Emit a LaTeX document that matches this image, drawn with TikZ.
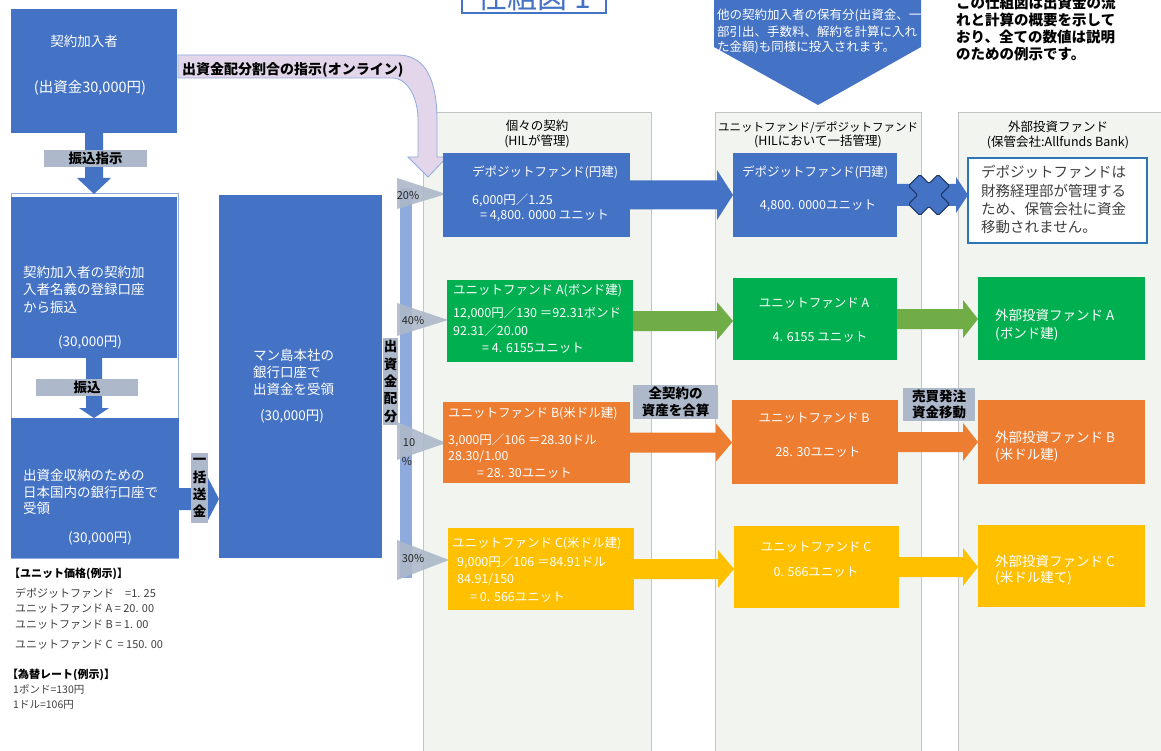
\documentclass[tikz,border=0pt]{standalone}
\usepackage{fontspec}
\setmainfont{Noto Sans CJK JP}
\newfontfamily\jpfw{Noto Sans CJK JP}
\usetikzlibrary{calc}
\definecolor{cblue}{HTML}{4472C4}
\definecolor{cgreen}{HTML}{00B050}
\definecolor{cgreenarr}{HTML}{70AD47}
\definecolor{corange}{HTML}{ED7D31}
\definecolor{cgold}{HTML}{FFC000}
\definecolor{clabel}{HTML}{ADB9CA}
\definecolor{cpanel}{HTML}{F2F5EF}
\definecolor{cpanelline}{HTML}{C4C4C4}
\definecolor{clilac}{HTML}{E3D6EB}
\definecolor{cbar}{HTML}{8FAADC}
\definecolor{cdark}{HTML}{1F3864}
\definecolor{coutline}{HTML}{2E75B6}
\definecolor{ctext}{HTML}{404040}
\newcommand\jfs[1]{\fontsize{#1pt}{#1pt}\selectfont}
\newcommand\jfl[2]{\fontsize{#1pt}{#2pt}\selectfont}
% horizontal block arrow: from, to, shaft half, head half, head length, colour
\newcommand\blkh[6]{\fill[#6] let \p1=(#1), \p2=(#2) in (\x1,\y1+#3) -- (\x2-#5,\y1+#3) -- (\x2-#5,\y1+#4) -- (\x2,\y1) -- (\x2-#5,\y1-#4) -- (\x2-#5,\y1-#3) -- (\x1,\y1-#3) -- cycle;}
% vertical (downward) block arrow
\newcommand\blkv[6]{\fill[#6] let \p1=(#1), \p2=(#2) in (\x1-#3,\y1) -- (\x1-#3,\y2+#5) -- (\x1-#4,\y2+#5) -- (\x1,\y2) -- (\x1+#4,\y2+#5) -- (\x1+#3,\y2+#5) -- (\x1+#3,\y1) -- cycle;}
\begin{document}
\begin{tikzpicture}[x=1pt,y=-1pt,
  box/.style={inner sep=0pt, outer sep=0pt, anchor=north west},
  wl/.style={inner sep=0pt, anchor=base west, text=white},
  wc/.style={inner sep=0pt, anchor=base, text=white},
  kl/.style={inner sep=0pt, anchor=base west, text=black},
  kc/.style={inner sep=0pt, anchor=base, text=black},
  lab/.style={fill=clabel, inner sep=0pt, outer sep=0pt, text=black, align=center, font=\bfseries\jfl{13.5}{16.5}},
  vlab/.style={lab, font=\bfseries\jfl{13.5}{17.3}},
  panel/.style={box, fill=cpanel, draw=cpanelline, line width=0.8pt, minimum height=660pt},
  pct/.style={inner sep=0pt, text=black!85, font=\jfs{11}},
  ptr/.style={fill=clabel, fill opacity=0.9},
  t12/.style={font=\jfs{12.5}},
  t13/.style={font=\jfs{13.5}},
  t135/.style={font=\jfs{13.5}},
  leg/.style={kl, text=ctext, font=\jfs{11}},
]
\useasboundingbox (0,0) rectangle (1161,751);
\clip (0,0) rectangle (1161,751);
\fill[white] (0,0) rectangle (1161,751);

% ---------- title (cut at top) ----------
\node[box, anchor=south west, draw=cblue, line width=2pt, minimum width=144pt, minimum height=60pt] (ttlbox) at (462,13) {};
\node[inner sep=0pt, anchor=base, text=cblue, font=\jfs{30}] (ttl) at (534,9) {仕組図 1};

% ---------- pentagon arrow from the top ----------
\fill[cblue] (714,-5) -- (921,-5) -- (921,47) -- (818,105) -- (714,47) -- cycle;
\node[wl, font=\jfs{12.5}] (pt1) at (717,20) {他の契約加入者の保有分(出資金、一};
\node[wl, font=\jfs{12.5}] (pt2) at (717,36.5) {部引出、手数料、解約を計算に入れ};
\node[wl, font=\jfs{12.5}] (pt3) at (717,52) {た金額)も同様に投入されます。};

% ---------- note top right ----------
\node[kl, font=\bfseries\jfs{14.5}] (n1) at (956,8.5) {この仕組図は出資金の流};
\node[kl, font=\bfseries\jfs{14.5}] (n2) at (956,25.5) {れと計算の概要を示して};
\node[kl, font=\bfseries\jfs{14.5}] (n3) at (956,42.5) {おり、全ての数値は説明};
\node[kl, font=\bfseries\jfs{14.5}] (n4) at (956,59.5) {のための例示です。};

% ---------- panels ----------
\node[panel, minimum width=228pt] (p1) at (423,112) {};
\node[panel, minimum width=206pt] (p2) at (715,112) {};
\node[panel, minimum width=215pt] (p3) at (958,112) {};
\node[kc, font=\jfs{12.5}] (p1t1) at (537,131) {個々の契約};
\node[kc, font=\jfs{12.5}] (p1t2) at (537,146) {(HILが管理)};
\node[kc, font=\jfs{11.5}] (p2t1) at (818,131.5) {ユニットファンド/デポジットファンド};
\node[kc, font=\jfs{12.5}] (p2t2) at (818,146) {(HILにおいて一括管理)};
\node[kc, font=\jfs{12.5}] (p3t1) at (1058,132) {外部投資ファンド};
\node[kc, font=\jfs{12.5}] (p3t2) at (1058,147) {(保管会社:Allfunds Bank)};

% ---------- left column ----------
\node[box, fill=cblue, minimum width=166pt, minimum height=124pt] (b1) at (11,9) {};
\node[wc, t135] (b1t1) at (84,47) {契約加入者};
\node[wc, font=\jfs{14.5}] (b1t2) at (90,93) {(出資金30,000円)};

\node[box, fill=white, draw=cbar, line width=1pt, minimum width=167pt, minimum height=364pt] (b2f) at (11,194) {};
\node[box, fill=cblue, minimum width=166pt, minimum height=161pt] (b2) at (11,197) {};
\node[wl, t135] (b2t1) at (23,277) {契約加入者の契約加};
\node[wl, t135] (b2t2) at (23,294) {入者名義の登録口座};
\node[wl, t135] (b2t3) at (23,312) {から振込};
\node[wc, t135] (b2t4) at (90,346) {(30,000円)};

\node[box, fill=cblue, minimum width=168pt, minimum height=140pt] (b3) at (11,418) {};
\node[wl, t135] (b3t1) at (23,480) {出資金収納のための};
\node[wl, t135] (b3t2) at (23,497) {日本国内の銀行口座で};
\node[wl, t135] (b3t3) at (23,513) {受領};
\node[wc, t135] (b3t4) at (100,542) {(30,000円)};

\node[box, fill=cblue, minimum width=163pt, minimum height=363pt] (bk) at (219,195) {};
\node[wl, t135] (bkt1) at (253,360) {マン島本社の};
\node[wl, t135] (bkt2) at (253,377) {銀行口座で};
\node[wl, t135] (bkt3) at (253,394) {出資金を受領};
\node[wc, t135] (bkt4) at (292,420) {(30,000円)};

\blkv{b1.south}{b2f.north}{9pt}{17pt}{16pt}{cblue}
\node[lab, minimum width=103pt, minimum height=17pt] (l1) at (95.5,158.5) {振込指示};
\blkv{b2.south}{b3.north}{8pt}{15pt}{10pt}{cblue}
\node[lab, minimum width=102pt, minimum height=17pt] (l2) at (87,387.5) {振込};
\blkh{[yshift=-11pt]b3.east}{bk.west}{11pt}{23pt}{12pt}{cblue}
\node[vlab, minimum width=17pt, minimum height=70pt] (l3) at (199.5,488) {一\\括\\送\\金};

% ---------- distribution bar ----------
\fill[cbar] (400,188) rectangle (412,578);
\fill[ptr] (397,178) -- (446,194) -- (397,209) -- cycle;
\fill[ptr] (397,303) -- (448,320) -- (397,336) -- cycle;
\fill[ptr] (397,422) -- (446,443) -- (397,460) -- cycle;
\fill[ptr] (397,540) -- (449,560) -- (397,580) -- cycle;
\node[pct] (pc20) at (408,195) {20\%};
\node[pct] (pc40) at (413,320) {40\%};
\node[pct] (pc10) at (409,443) {10};
\node[pct] (pc10b) at (407,461) {\%};
\node[pct] (pc30) at (413,558) {30\%};
\node[vlab, minimum width=15pt, minimum height=87pt] (l4) at (390.5,381.5) {出\\資\\金\\配\\分};

% ---------- lilac instruction arrow ----------
\filldraw[fill=clilac, draw=cbar, line width=0.8pt] (178,55) -- (398,55) .. controls (428,55) and (437,85) .. (437,120) -- (437,157) -- (447,157) -- (428,177) -- (408,157) -- (418,157) -- (418,120) .. controls (418,98) and (408,78) .. (392,78) -- (178,78) -- cycle;
\node[kl, font=\bfseries\jfs{14}] (lil) at (182,75) {出資金配分割合の指示(オンライン)};

% ---------- column 1 ----------
\node[box, fill=cblue, minimum width=187pt, minimum height=84pt] (d1) at (443,153) {};
\node[wl, t12] (d1t1) at (472,176.5) {デポジットファンド(円建)};
\node[wl, t12] (d1t2) at (472,204.5) {6,000円／1.25};
\node[wl, t12] (d1t3) at (480,219.5) {= 4,800. 0000 ユニット};

\node[box, fill=cgreen, minimum width=186pt, minimum height=82pt] (g1) at (447,280) {};
\node[wl, t12] (g1t1) at (453,294.5) {ユニットファンド A(ボンド建)};
\node[wl, t12] (g1t2) at (453,317.5) {12,000円／130 ＝92.31ボンド};
\node[wl, t12] (g1t3) at (453,335.5) {92.31／20.00};
\node[wl, t12] (g1t4) at (482,352.5) {= 4. 6155ユニット};

\node[box, fill=corange, minimum width=187pt, minimum height=81pt] (o1) at (443,402) {};
\node[wl, t12] (o1t1) at (448,417.5) {ユニットファンド B(米ドル建)};
\node[wl, t12] (o1t2) at (448,444.5) {3,000円／106 ＝28.30ドル};
\node[wl, t12] (o1t3) at (448,460.5) {28.30/1.00};
\node[wl, t12] (o1t4) at (477,477.5) {= 28. 30ユニット};

\node[box, fill=cgold, minimum width=186pt, minimum height=82pt] (y1) at (448,528) {};
\node[wl, t12] (y1t1) at (452,547.5) {ユニットファンド C(米ドル建)};
\node[wl, t12] (y1t2) at (457,566.5) {9,000円／106 ＝84.91ドル};
\node[wl, t12] (y1t3) at (457,583.5) {84.91/150};
\node[wl, t12] (y1t4) at (470,601.5) {= 0. 566ユニット};

% ---------- column 2 ----------
\node[box, fill=cblue, minimum width=164pt, minimum height=84pt] (d2) at (733,153) {};
\node[wc, t12] (d2t1) at (815,176.5) {デポジットファンド(円建)};
\node[wc, t12] (d2t2) at (818,209.5) {4,800. 0000ユニット};

\node[box, fill=cgreen, minimum width=164pt, minimum height=82pt] (g2) at (733,278) {};
\node[wc, t12] (g2t1) at (814,307.5) {ユニットファンド A};
\node[wc, t12] (g2t2) at (820,341.5) {4. 6155 ユニット};

\node[box, fill=corange, minimum width=166pt, minimum height=84pt] (o2) at (732,400) {};
\node[wc, t12] (o2t1) at (814,422.5) {ユニットファンド B};
\node[wc, t12] (o2t2) at (818,456.5) {28. 30ユニット};

\node[box, fill=cgold, minimum width=165pt, minimum height=82pt] (y2) at (734,526) {};
\node[wc, t12] (y2t1) at (816,551.5) {ユニットファンド C};
\node[wc, t12] (y2t2) at (816,576.5) {0. 566ユニット};

% ---------- column 3 ----------
\node[box, fill=white, draw=coutline, line width=1.3pt, minimum width=179pt, minimum height=85pt] (o3) at (968,158) {};
\node[kl, text=ctext, font=\jpfw\jfs{14.5}] (o3t1) at (981,178) {デポジットファンドは};
\node[kl, text=ctext, font=\jpfw\jfs{14.5}] (o3t2) at (981,197) {財務経理部が管理する};
\node[kl, text=ctext, font=\jpfw\jfs{14.5}] (o3t3) at (981,215) {ため、保管会社に資金};
\node[kl, text=ctext, font=\jpfw\jfs{14.5}] (o3t4) at (981,233) {移動されません。};

\node[box, fill=cgreen, minimum width=167pt, minimum height=83pt] (g3) at (978,277) {};
\node[wl, t13] (g3t1) at (995,320) {外部投資ファンド A};
\node[wl, t13] (g3t2) at (995,338) {(ボンド建)};

\node[box, fill=corange, minimum width=167pt, minimum height=84pt] (r3) at (978,400) {};
\node[wl, t13] (r3t1) at (995,442) {外部投資ファンド B};
\node[wl, t13] (r3t2) at (995,459) {(米ドル建)};

\node[box, fill=cgold, minimum width=167pt, minimum height=82pt] (y3) at (978,525) {};
\node[wl, t13] (y3t1) at (995,566) {外部投資ファンド C};
\node[wl, t13] (y3t2) at (995,582) {(米ドル建て)};

% ---------- flow arrows ----------
\blkh{d1.east}{d2.west}{14.5pt}{25pt}{16pt}{cblue}
\blkh{g1.east}{g2.west}{10pt}{19pt}{16pt}{cgreenarr}
\blkh{o1.east}{o2.west}{10pt}{19pt}{16pt}{corange}
\blkh{y1.east}{y2.west}{10pt}{19pt}{16pt}{cgold}
\blkh{d2.east}{o3.west}{11pt}{18pt}{12pt}{cblue}
\blkh{g2.east}{g3.west}{10pt}{19pt}{15pt}{cgreenarr}
\blkh{o2.east}{r3.west}{10pt}{19pt}{15pt}{corange}
\blkh{y2.east}{y3.west}{10pt}{19pt}{15pt}{cgold}

% blocked transfer mark
\begin{scope}[shift={(929,195)}, rotate=45]
\filldraw[fill=cblue, draw=cdark, line width=1.1pt, rounded corners=1.5pt] (-8,-21) -- (8,-21) -- (8,-8) -- (21,-8) -- (21,8) -- (8,8) -- (8,21) -- (-8,21) -- (-8,8) -- (-21,8) -- (-21,-8) -- (-8,-8) -- cycle;
\end{scope}

% labels between columns
\node[lab, minimum width=85pt, minimum height=34pt] (l5) at (675.5,402) {全契約の\\資産を合算};
\node[lab, minimum width=72pt, minimum height=33pt] (l6) at (939,404.5) {売買発注\\資金移動};

% ---------- legend ----------
\node[kl, font=\bfseries\jfs{11}] (lg1) at (9,577) {【ユニット価格(例示)】};
\node[leg] (lg2) at (15,597) {デポジットファンド　=1. 25};
\node[leg] (lg3) at (15,612) {ユニットファンド A = 20. 00};
\node[leg] (lg4) at (15,628) {ユニットファンド B = 1. 00};
\node[leg] (lg5) at (15,648) {ユニットファンド C\ \ = 150. 00};
\node[kl, font=\bfseries\jfs{11}] (lg6) at (7,678) {【為替レート(例示)】};
\node[leg, font=\jfs{10.5}] (lg7) at (13,693) {1ポンド=130円};
\node[leg, font=\jfs{10.5}] (lg8) at (13,708) {1ドル=106円};
\end{tikzpicture}
\end{document}
